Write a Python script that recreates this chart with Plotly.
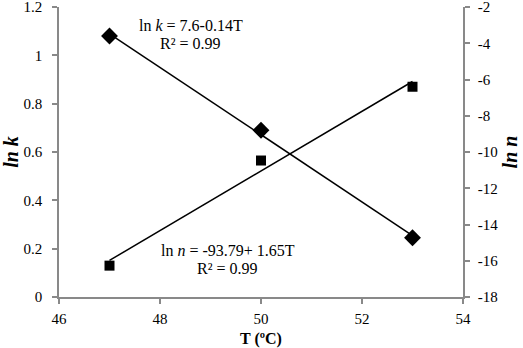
import numpy as np
import plotly.graph_objects as go

T = [47, 50, 53]
ln_k = [1.08, 0.69, 0.245]
ln_n = [-16.27, -10.47, -6.40]

FONT = "Liberation Serif, Times New Roman, serif"
AX = "#898989"

fig = go.Figure()

# trendlines computed from the data
tx = np.array([min(T), max(T)])
pk = np.polyfit(T, ln_k, 1)
pn = np.polyfit(T, ln_n, 1)

fig.add_trace(go.Scatter(x=tx, y=np.polyval(pk, tx), mode="lines",
                         line=dict(color="black", width=1.5), showlegend=False))
fig.add_trace(go.Scatter(x=tx, y=np.polyval(pn, tx), mode="lines", yaxis="y2",
                         line=dict(color="black", width=1.5), showlegend=False))
fig.add_trace(go.Scatter(x=T, y=ln_k, mode="markers",
                         marker=dict(symbol="diamond", size=13, color="black"),
                         showlegend=False))
fig.add_trace(go.Scatter(x=T, y=ln_n, mode="markers", yaxis="y2",
                         marker=dict(symbol="square", size=10, color="black"),
                         showlegend=False))

axcommon = dict(showgrid=False, zeroline=False, showline=True, linecolor=AX, linewidth=1.5,
                ticks="outside", tickcolor=AX, ticklen=5, tickwidth=1.5, automargin=False,
                ticklabeloverflow="allow",
                tickfont=dict(family=FONT, size=15, color="black"))

fig.update_layout(
    width=523, height=348,
    margin=dict(l=59, r=60, t=7, b=51),
    plot_bgcolor="white", paper_bgcolor="white",
    xaxis=dict(range=[46, 54], tickvals=[46, 48, 50, 52, 54], ticklabelstandoff=2,
               title=dict(text="<b>T (ºC)</b>", font=dict(family=FONT, size=16, color="black"), standoff=7),
               **axcommon),
    yaxis=dict(range=[0, 1.2], tickvals=[0, 0.2, 0.4, 0.6, 0.8, 1, 1.2],
               ticktext=["0", "0.2", "0.4", "0.6", "0.8", "1", "1.2"], ticklabelstandoff=7,
               title=dict(text="<b><i>ln k</i></b>", font=dict(family=FONT, size=20, color="black"), standoff=4),
               **axcommon),
    yaxis2=dict(range=[-18, -2], tickvals=[-18, -16, -14, -12, -10, -8, -6, -4, -2],
                ticktext=["-18", "-16", "-14", "-12", "-10", "-8", "-6", "-4", "-2"],
                overlaying="y", side="right", ticklabelstandoff=5,
                title=dict(text="<b><i>ln n</i></b>", font=dict(family=FONT, size=20, color="black"), standoff=6),
                **axcommon),
    annotations=[
        dict(x=48.61, y=1.122, xref="x", yref="y", text="ln <i>k</i> = 7.6-0.14T", showarrow=False,
             font=dict(family=FONT, size=16, color="black")),
        dict(x=48.61, y=1.048, xref="x", yref="y", text="R² = 0.99", showarrow=False,
             font=dict(family=FONT, size=16, color="black")),
        dict(x=49.34, y=0.194, xref="x", yref="y", text="ln <i>n</i> = -93.79+ 1.65T", showarrow=False,
             font=dict(family=FONT, size=16, color="black")),
        dict(x=49.34, y=0.119, xref="x", yref="y", text="R² = 0.99", showarrow=False,
             font=dict(family=FONT, size=16, color="black")),
    ],
)

fig.write_html("out.html", config={"displayModeBar": False},
               post_script="document.body.style.margin='0';document.body.style.overflow='hidden';")
